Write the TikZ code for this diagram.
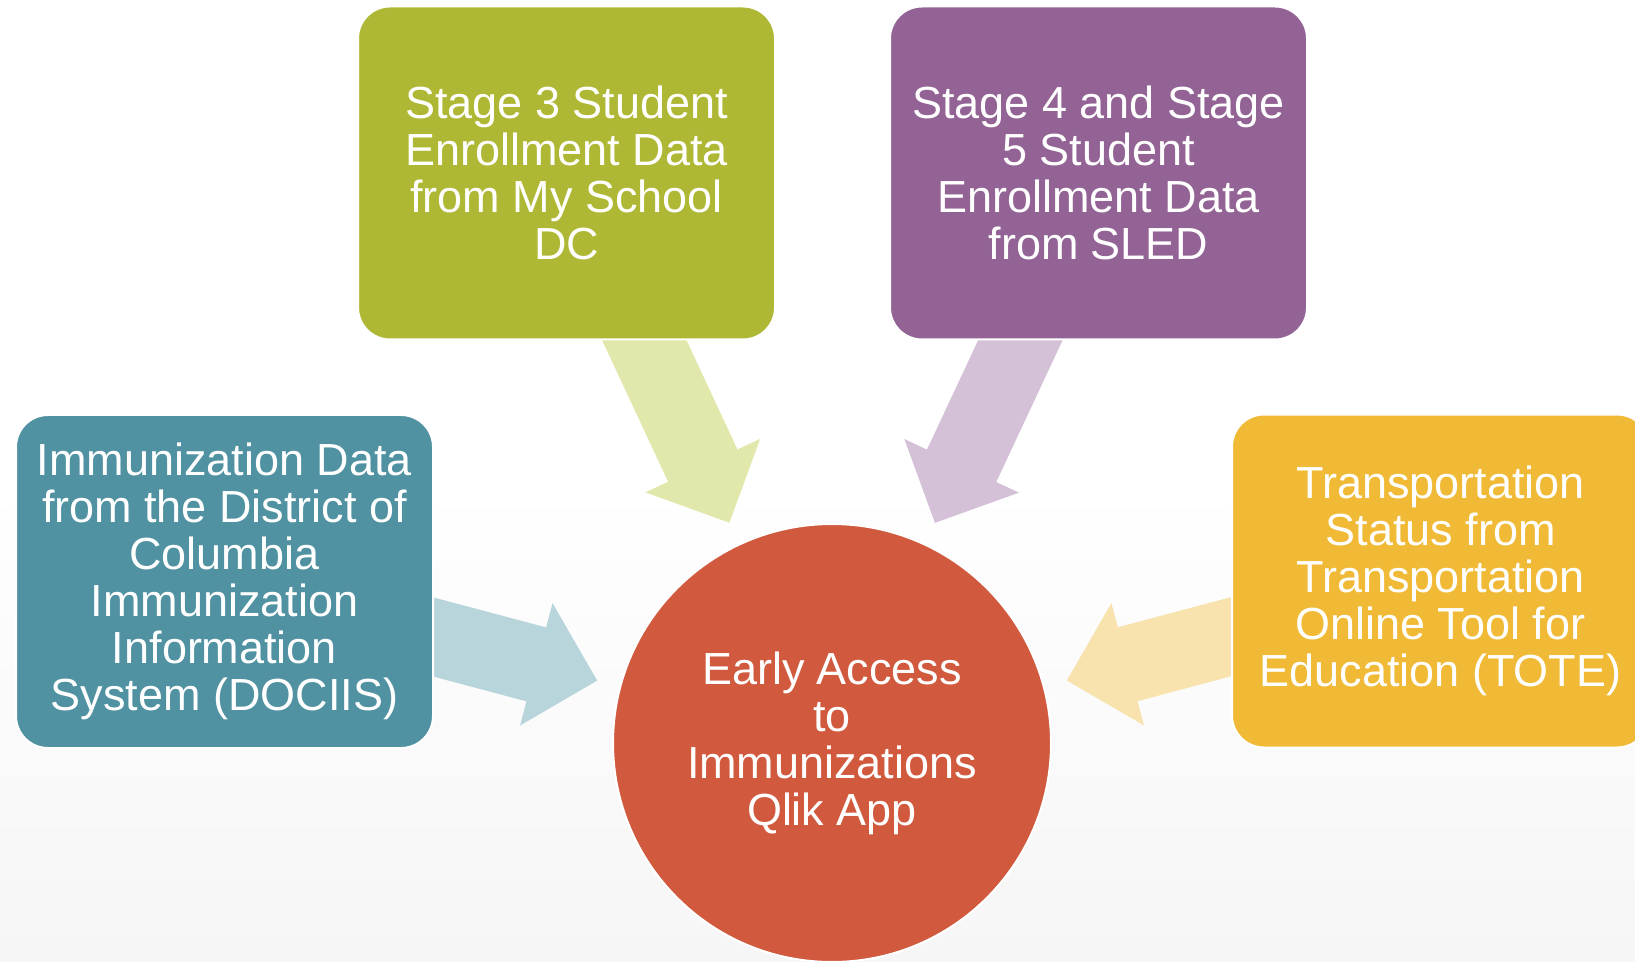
\documentclass[tikz,border=0pt]{standalone}
\usepackage{fontspec}
\setmainfont{Liberation Sans}
\usetikzlibrary{arrows.meta}

\definecolor{stgreen}{RGB}{175,184,53}
\definecolor{stpurple}{RGB}{146,99,148}
\definecolor{stteal}{RGB}{80,146,161}
\definecolor{styellow}{RGB}{240,186,54}
\definecolor{appred}{RGB}{209,90,62}
\definecolor{gfade}{RGB}{226,231,171}
\definecolor{pfade}{RGB}{212,193,216}
\definecolor{tfade}{RGB}{184,213,220}
\definecolor{yfade}{RGB}{248,227,174}
\definecolor{bgbot}{RGB}{246,246,246}

\pgfdeclarelayer{bg}
\pgfdeclarelayer{arrows}
\pgfsetlayers{bg,arrows,main}

\begin{document}
\begin{tikzpicture}[
            font = \fontsize{12.8pt}{13.35pt}\selectfont, % text size
            text = white,
            node distance = 5.7cm % distance between node centres
        ]

        \tikzstyle{source}=[
            draw = white,
            line width = 0.02cm,
            rounded corners = 0.32cm,
            minimum width = 4.17cm,
            minimum height = 3.33cm,
            inner sep = 0pt,
            align = center
        ]
        \tikzstyle{hub}=[
            circle,
            draw = white,
            line width = 0.02cm,
            fill = appred,
            minimum size = 4.38cm,
            inner sep = 0pt,
            align = center
        ]
        \tikzstyle{feed}=[
            line width = 0.765cm,
            shorten < = -0.5cm, % tail hidden under the box
            shorten > = 0.23cm, % gap before the circle
            -{Triangle[length=0.63cm, width=1.26cm, line width=0.03cm]}
        ]

        \useasboundingbox (0,0) rectangle (16.35,9.61);
        \clip (0,0) rectangle (16.35,9.61);

        \node[hub] (ea) at (8.32,2.18) {Early Access\\to\\Immunizations\\Qlik App};
        \node[source, fill=stgreen] (s3) [above of=ea, xshift=-2.655cm] {Stage 3 Student\\Enrollment Data\\from My School\\DC};
        \node[source, fill=stpurple] (s45) [above of=ea, xshift=2.665cm] {Stage 4 and Stage\\5 Student\\Enrollment Data\\from SLED};
        \node[source, fill=stteal, node distance=6.075cm] (imm) [left of=ea, yshift=1.615cm] {Immunization Data\\from the District of\\Columbia\\Immunization\\Information\\System (DOCIIS)};
        \node[source, fill=styellow, node distance=6.085cm] (tote) [right of=ea, yshift=1.62cm] {Transportation\\Status from\\Transportation\\Online Tool for\\Education (TOTE)};

        \begin{pgfonlayer}{arrows}
        \draw[feed, gfade] (s3) -- (ea);
        \draw[feed, pfade] (s45) -- (ea);
        \draw[feed, tfade] (imm) -- (ea);
        \draw[feed, yfade] (tote) -- (ea);
        \end{pgfonlayer}

        \begin{pgfonlayer}{bg}
        \shade[top color=white, bottom color=bgbot, middle color=white] (0,0) rectangle (16.35,9.61);
        \end{pgfonlayer}
    \end{tikzpicture}
\end{document}
